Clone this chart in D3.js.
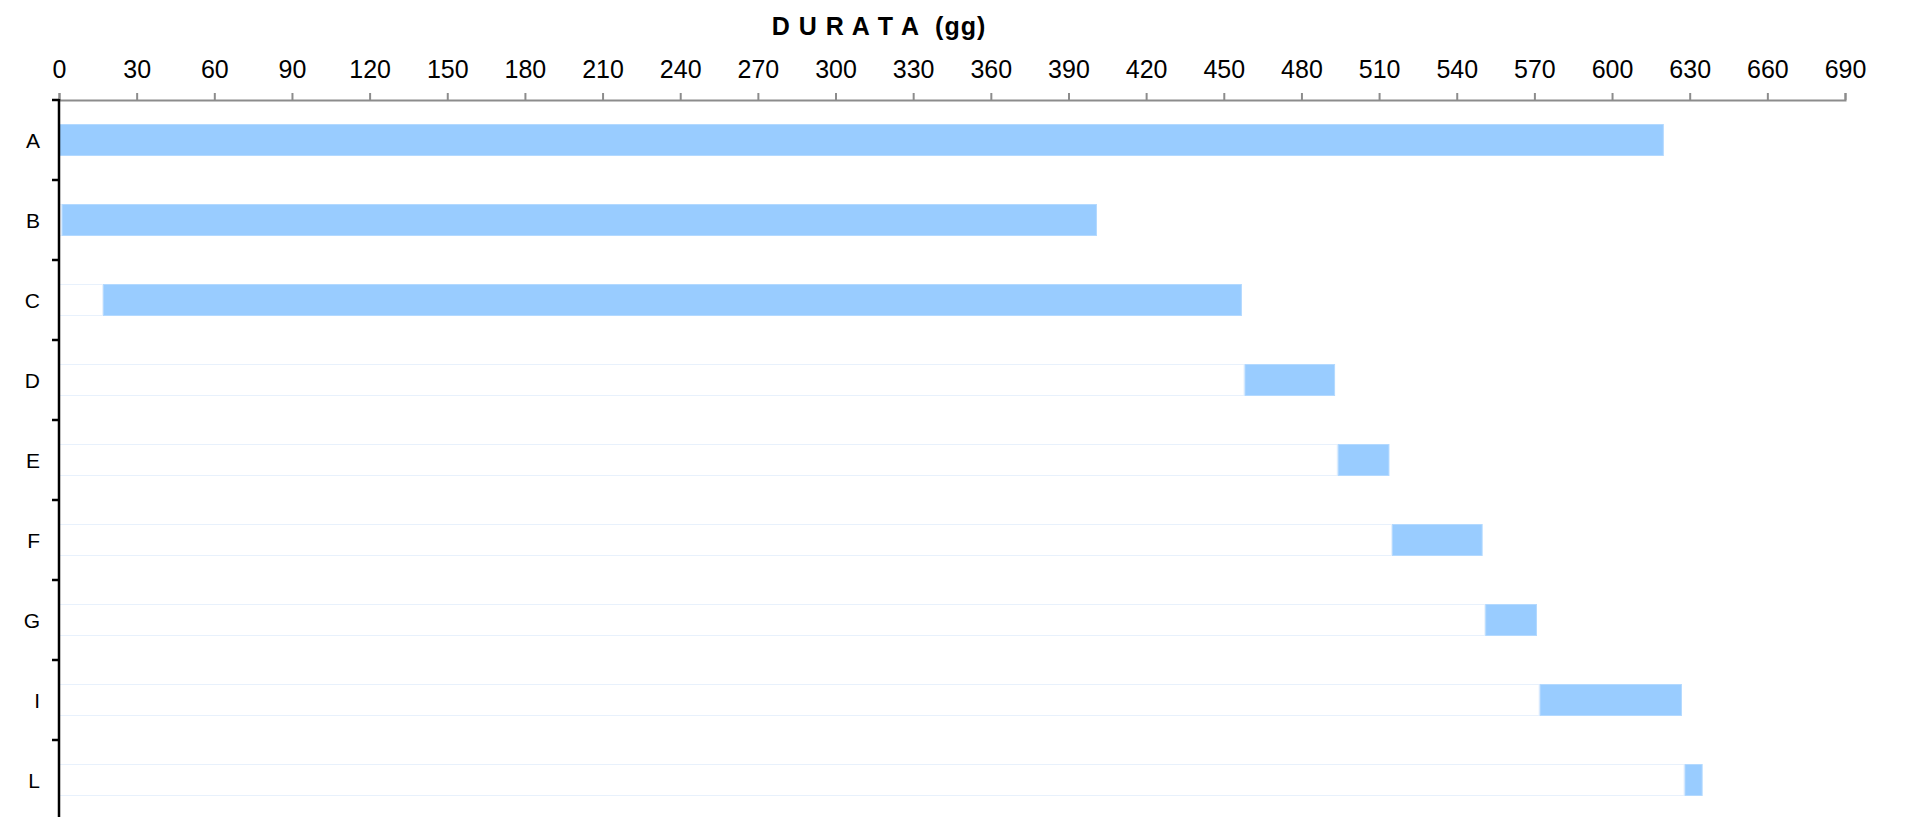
<!DOCTYPE html>
<html>
<head>
<meta charset="utf-8">
<script src="https://cdn.jsdelivr.net/npm/d3@7"></script>
<style>
  html, body { margin: 0; padding: 0; background: #ffffff; }
  svg { display: block; font-family: "Liberation Sans", Arial, sans-serif; }
</style>
</head>
<body>
<svg id="chart" width="1915" height="817"></svg>
<script>
// Activities and their schedule (days)
const tasks = ["A", "B", "C", "D", "E", "F", "G", "I", "L"];
const startDay = [0, 1, 17, 458, 494, 515, 551, 572, 628];
const duration = [620, 400, 440, 35, 20, 35, 20, 55, 7];
const dayTicks = [0, 30, 60, 90, 120, 150, 180, 210, 240, 270, 300, 330, 360,
                  390, 420, 450, 480, 510, 540, 570, 600, 630, 660, 690];
const axisTitle = "D U R A T A  (gg)";

const svg = d3.select("#chart");

const x = d3.scaleLinear().domain([0, 690]).range([59, 1845]);
const rows = d3.scaleBand().domain(tasks).range([100, 820]);
const y = d3.scaleBand().domain(tasks).range([100, 820])
  .paddingInner(0.6).paddingOuter(0.3);

const rowsData = tasks.map((t, i) => ({ task: t, start: startDay[i], dur: duration[i] }));

// invisible lead-in segment (start offset)
svg.append("g").selectAll("rect")
  .data(rowsData)
  .join("rect")
  .attr("x", d => x(0) + 0.5)
  .attr("y", d => y(d.task) + 0.5)
  .attr("width", d => Math.max(0, x(d.start) - x(0) - 1))
  .attr("height", y.bandwidth() - 1)
  .attr("fill", "#ffffff")
  .attr("stroke", "#e8f1fc")
  .attr("stroke-width", 1);

// duration bars
svg.append("g").selectAll("rect")
  .data(rowsData)
  .join("rect")
  .attr("x", d => x(d.start) + 0.5)
  .attr("y", d => y(d.task) + 0.5)
  .attr("width", d => x(d.start + d.dur) - x(d.start) - 1)
  .attr("height", y.bandwidth() - 1)
  .attr("fill", "#99ccff")
  .attr("stroke", "#b3d9ff")
  .attr("stroke-width", 1);

// top axis
const xAxis = d3.axisTop(x).tickValues(dayTicks).tickSize(7).tickPadding(15)
  .tickSizeOuter(7).tickFormat(d3.format("d"));
const gx = svg.append("g").attr("transform", "translate(0,100)").call(xAxis);
gx.select(".domain").attr("stroke", "#8c8c8c").attr("stroke-width", 2);
gx.selectAll(".tick line").attr("stroke", "#8c8c8c").attr("stroke-width", 2);
gx.selectAll(".tick text").attr("fill", "#000").attr("font-size", 25)
  .attr("font-family", "'Liberation Sans', Arial, sans-serif");

// title
svg.append("text")
  .attr("x", 879).attr("y", 35)
  .attr("text-anchor", "middle")
  .attr("font-size", 25).attr("font-weight", "bold")
  .attr("letter-spacing", 1)
  .style("white-space", "pre")
  .text(axisTitle);

// left category axis
const gy = svg.append("g");
gy.append("line")
  .attr("x1", x(0)).attr("x2", x(0))
  .attr("y1", rows.range()[0] - 1).attr("y2", rows.range()[1])
  .attr("stroke", "#000").attr("stroke-width", 2.5);
gy.selectAll("line.tk")
  .data(tasks)
  .join("line")
  .attr("class", "tk")
  .attr("x1", x(0) - 7).attr("x2", x(0))
  .attr("y1", d => rows(d)).attr("y2", d => rows(d))
  .attr("stroke", "#000").attr("stroke-width", 2.5);
gy.selectAll("text")
  .data(tasks)
  .join("text")
  .attr("x", 40)
  .attr("y", d => rows(d) + rows.bandwidth() / 2)
  .attr("dy", "0.36em")
  .attr("text-anchor", "end")
  .attr("font-size", 21)
  .attr("fill", "#000")
  .text(d => d);
</script>
</body>
</html>
